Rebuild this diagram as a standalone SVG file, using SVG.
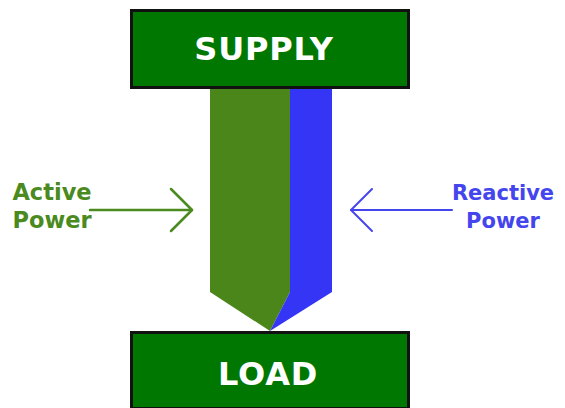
<svg xmlns="http://www.w3.org/2000/svg" width="565" height="408" viewBox="0 0 565 408">
  <style>
    .box { fill: #007700; stroke: #111; stroke-width: 3; }
    .boxlabel { font-family: "DejaVu Sans", Verdana, sans-serif; font-weight: bold; font-size: 32px; fill: #fff; text-anchor: middle; letter-spacing: 0.8px; }
    .side { font-family: "DejaVu Sans", Verdana, sans-serif; font-weight: bold; text-anchor: middle; }
    .active { fill: #4a8a1e; font-size: 22.5px; }
    .reactive { fill: #4545ee; font-size: 21px; }
    .arrow { fill: none; stroke-width: 2.5; stroke-linecap: round; stroke-linejoin: round; }
  </style>
  <rect width="565" height="408" fill="#fff"/>

  <!-- power flow band: active (green) and reactive (blue) parts -->
  <g id="flow">
    <polygon points="210,86 290,86 290,292 270,331 210,292" fill="#4a861a"/>
    <polygon points="290,86 332,86 332,292 270,331 290,292" fill="#3535f5"/>
  </g>

  <g id="supply">
    <rect class="box" x="131.5" y="10.5" width="277" height="77"/>
    <text class="boxlabel" x="264" y="60">SUPPLY</text>
  </g>

  <g id="load">
    <rect class="box" x="131.5" y="332.5" width="277" height="76"/>
    <text class="boxlabel" x="268" y="385">LOAD</text>
  </g>

  <g id="active-power">
    <text class="side active" x="52" y="200">Active</text>
    <text class="side active" x="52" y="228">Power</text>
  </g>

  <g id="reactive-power">
    <text class="side reactive" x="503" y="200">Reactive</text>
    <text class="side reactive" x="503" y="228">Power</text>
  </g>

  <g id="connectors">
    <g stroke="#4a8a1e" class="arrow">
      <line x1="90" y1="210" x2="192" y2="210"/>
      <polyline points="171,189 192,210 171,231"/>
    </g>
    <g stroke="#4545ee" class="arrow" style="stroke-width:2">
      <line x1="452" y1="210" x2="351" y2="210"/>
      <polyline points="372,189 351,210 372,231"/>
    </g>
  </g>
</svg>
